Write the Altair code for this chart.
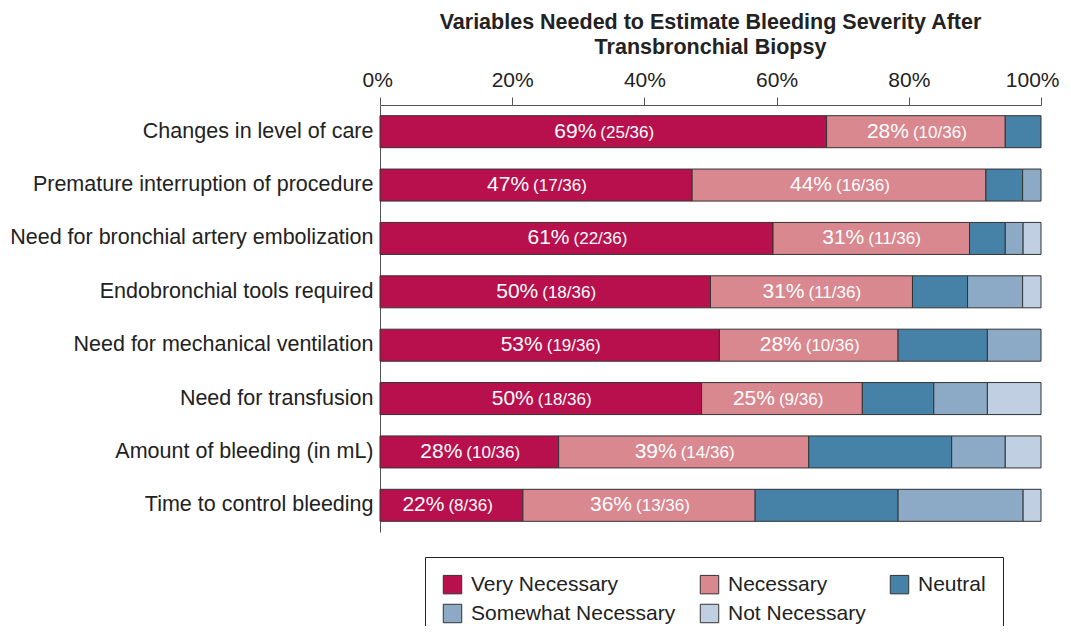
import altair as alt
import pandas as pd

variables = [
    "Changes in level of care",
    "Premature interruption of procedure",
    "Need for bronchial artery embolization",
    "Endobronchial tools required",
    "Need for mechanical ventilation",
    "Need for transfusion",
    "Amount of bleeding (in mL)",
    "Time to control bleeding",
]
responses = ["Very Necessary", "Necessary", "Neutral", "Somewhat Necessary", "Not Necessary"]
colors = ["#B8104C", "#D98890", "#4682A8", "#8CAAC6", "#C0D0E2"]

very_necessary = [25, 17, 22, 18, 19, 18, 10, 8]
necessary = [10, 16, 11, 11, 10, 9, 14, 13]
neutral = [2, 2, 2, 3, 5, 4, 8, 8]
somewhat_necessary = [0, 1, 1, 3, 3, 3, 3, 7]
not_necessary = [0, 0, 1, 1, 0, 3, 2, 1]
respondents = 36
x_ticks = [0, 0.2, 0.4, 0.6, 0.8, 1.0]

series = [very_necessary, necessary, neutral, somewhat_necessary, not_necessary]
rows = []
for ri, resp in enumerate(responses):
    for vi, var in enumerate(variables):
        c = series[ri][vi]
        if c == 0:
            continue
        rows.append({
            "variable": var,
            "response": resp,
            "order": ri,
            "count": c,
            "pct_label": f"{round(c / respondents * 100)}%" if ri < 2 else "",
            "frac_label": f"({c}/{respondents})" if ri < 2 else "",
        })
df = pd.DataFrame(rows)

FONT = "Liberation Sans"

base = alt.Chart(df).encode(
    y=alt.Y("variable:N", sort=variables, title=None,
            scale=alt.Scale(paddingInner=0.4, paddingOuter=0.2),
            axis=alt.Axis(ticks=False, labelFontSize=21.5, labelColor="#222222",
                          labelFont=FONT, labelPadding=7, domainColor="#555555",
                          labelLimit=600)),
)

bars = base.mark_bar(stroke="#333333", strokeWidth=1).encode(
    x=alt.X("count:Q", stack="normalize", title=None,
            scale=alt.Scale(domain=[0, 1], nice=False),
            axis=alt.Axis(orient="top", format=".0%", values=x_ticks, grid=False,
                          tickSize=8, labelFontSize=21, labelColor="#222222",
                          labelFont=FONT, labelPadding=7, domainColor="#555555",
                          tickColor="#555555", labelFlush=True, labelFlushOffset=18)),
    color=alt.Color("response:N", sort=responses,
                    scale=alt.Scale(domain=responses, range=colors),
                    legend=alt.Legend(title=None, orient="none", legendX=45, legendY=452,
                                      columns=3, direction="horizontal",
                                      symbolType="square", symbolSize=340,
                                      symbolStrokeColor="#333333", symbolStrokeWidth=1,
                                      symbolOpacity=1, labelLimit=400,
                                      labelFontSize=21, labelFont=FONT, labelColor="#222222",
                                      padding=17, strokeColor="#222222", fillColor="white",
                                      rowPadding=6, columnPadding=22, labelOffset=8)),
    order=alt.Order("order:Q"),
)

label_base = alt.Chart(df).transform_joinaggregate(
    total="sum(count)", groupby=["variable"]
).transform_window(
    cum="sum(count)", sort=[alt.SortField("order")], groupby=["variable"],
    frame=[None, 0]
).transform_calculate(
    mid="(datum.cum - datum.count / 2) / datum.total"
).transform_filter("datum.order < 2").encode(
    y=alt.Y("variable:N", sort=variables),
    x=alt.X("mid:Q"),
)

pct_text = label_base.mark_text(align="right", dx=-7, color="white", fontSize=21,
                                font=FONT, baseline="middle").encode(text="pct_label:N")
frac_text = label_base.mark_text(align="left", dx=-3, color="white", fontSize=17,
                                 font=FONT, baseline="middle", dy=1).encode(text="frac_label:N")

chart = alt.layer(bars, pct_text, frac_text).properties(
    width=661, height=427,
    autosize=alt.AutoSizeParams(type="none"),
    padding={"left": 372, "top": 97, "right": 22, "bottom": 94},
    title=alt.TitleParams(
        text=["Variables Needed to Estimate Bleeding Severity After", "Transbronchial Biopsy"],
        fontSize=21.5, font=FONT, fontWeight="bold", color="#222222",
        anchor="middle", offset=11, lineHeight=25,
    ),
).configure_view(stroke=None)

chart.save("out.html", embed_options={"renderer": "svg", "actions": False})
